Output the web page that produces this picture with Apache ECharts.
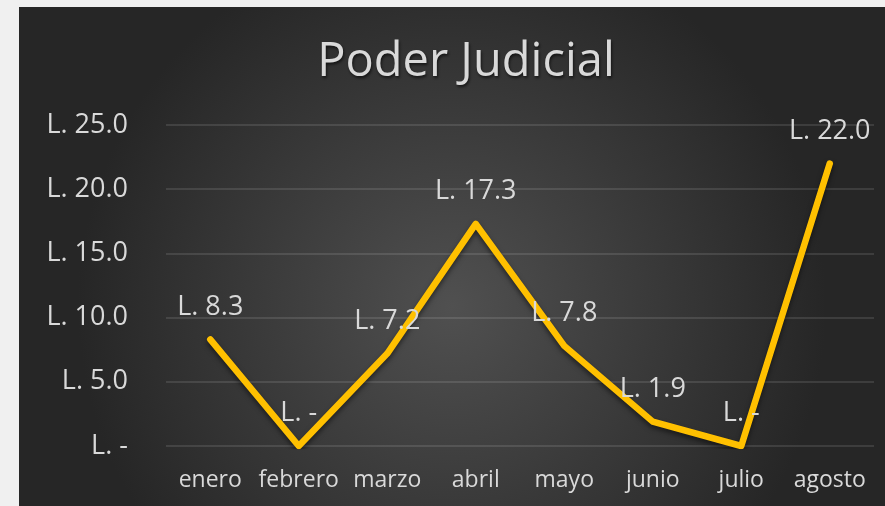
<!DOCTYPE html>
<html>
<head>
<meta charset="utf-8">
<script src="https://cdn.jsdelivr.net/npm/echarts@6/dist/echarts.min.js"></script>
<style>
  html, body { margin: 0; padding: 0; background: #f0f0f0; }
  #chart { width: 885px; height: 506px; }
</style>
</head>
<body>
<div id="chart"></div>
<script>
const months = ['enero', 'febrero', 'marzo', 'abril', 'mayo', 'junio', 'julio', 'agosto']
const amounts = [8.3, 0, 7.2, 17.3, 7.8, 1.9, 0, 22.0]
const yTicks = [0, 5, 10, 15, 20, 25]

const fmt = v => (v === 0 ? 'L. -' : 'L. ' + Number(v).toFixed(1))
const fontFamily = '"Open Sans", "Noto Sans", sans-serif'

const chart = echarts.init(document.getElementById('chart'))

const option = {
  backgroundColor: '#f0f0f0',
  graphic: [
    {
      type: 'rect',
      z: -10,
      shape: { x: 19, y: 7, width: 866, height: 499 },
      style: {
        fill: new echarts.graphic.RadialGradient(0.5, 0.6, 0.75, [
          { offset: 0, color: '#505050' },
          { offset: 1, color: '#262626' }
        ])
      }
    }
  ],
  title: {
    text: 'Poder Judicial',
    left: 461,
    top: 34,
    textAlign: 'center',
    textStyle: {
      color: '#d9d9d9',
      fontFamily: fontFamily,
      fontSize: 47,
      fontWeight: 'normal',
      textShadowColor: 'rgba(0,0,0,0.6)',
      textShadowBlur: 3,
      textShadowOffsetX: 1,
      textShadowOffsetY: 2
    }
  },
  grid: {
    left: 166,
    right: 11,
    top: 125,
    bottom: 60
  },
  xAxis: {
    type: 'category',
    data: months,
    boundaryGap: true,
    axisLine: { show: false },
    axisTick: { show: false },
    axisLabel: {
      interval: 0,
      color: '#d9d9d9',
      fontFamily: fontFamily,
      fontSize: 23,
      margin: 23
    }
  },
  yAxis: {
    type: 'value',
    min: yTicks[0],
    max: yTicks[yTicks.length - 1],
    interval: 5,
    axisLine: { show: false },
    axisTick: { show: false },
    axisLabel: {
      color: '#d9d9d9',
      fontFamily: fontFamily,
      fontSize: 27,
      margin: 38,
      formatter: fmt
    },
    splitLine: { lineStyle: { color: 'rgba(255,255,255,0.15)', width: 1.5 } }
  },
  series: [
    {
      type: 'line',
      data: amounts,
      symbol: 'circle',
      symbolSize: 0,
      itemStyle: { color: '#ffc000' },
      lineStyle: {
        color: '#ffc000',
        width: 6.5,
        cap: 'round',
        join: 'round',
        shadowColor: 'rgba(0,0,0,0.5)',
        shadowBlur: 5,
        shadowOffsetY: 3
      },
      label: {
        show: true,
        position: 'top',
        distance: 19,
        color: '#d9d9d9',
        fontFamily: fontFamily,
        fontSize: 27,
        formatter: p => fmt(p.value)
      }
    }
  ]
}

chart.setOption(option)
</script>
</body>
</html>
